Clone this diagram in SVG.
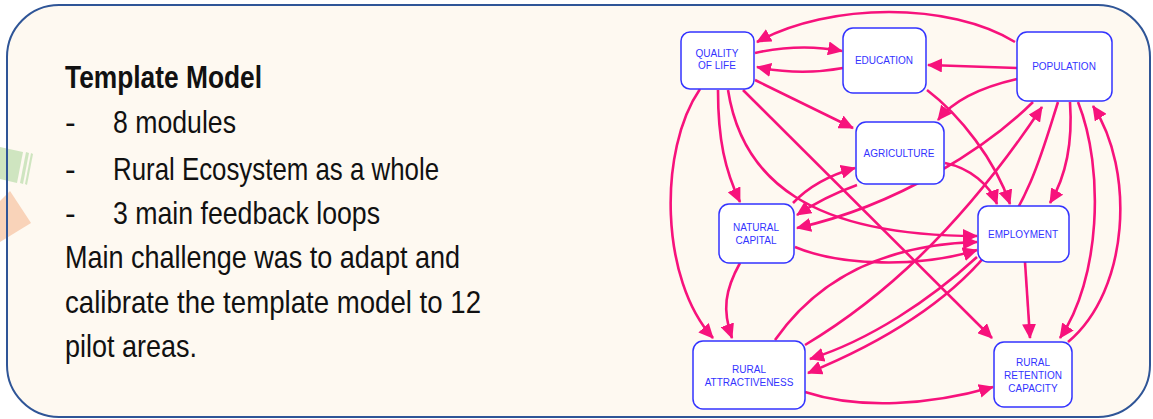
<svg xmlns="http://www.w3.org/2000/svg" width="1153" height="419" viewBox="0 0 1153 419">
<defs>
<style>
.txt{font-family:"Liberation Sans",Arial,sans-serif;fill:#111111}
.node rect{fill:#ffffff;stroke:#3333ff;stroke-width:1.5}
.node text{font-family:"Liberation Sans",Arial,sans-serif;font-size:10px;fill:#3333ff;text-anchor:middle}
.links path{fill:none;stroke:#f7127c;stroke-width:2.6;marker-end:url(#ah)}
</style>
<marker id="ah" markerUnits="userSpaceOnUse" markerWidth="16" markerHeight="14" refX="14" refY="7" orient="auto">
<path d="M0,0 L15,7 L0,14 z" fill="#f7127c"/>
</marker>
</defs>
<rect x="0" y="0" width="1153" height="419" fill="#ffffff"/>
<rect x="7" y="5" width="1143" height="412" rx="52" ry="52" fill="#fef9f1"/>
<g id="decor">
<polygon points="0,147 23,152 17,183 0,179" fill="#cfe5c0"/>
<polygon points="26,152 29,153 23,184 20,183" fill="#cfe5c0"/>
<polygon points="31,153 33,154 27,185 25,184" fill="#cfe5c0"/>
<polygon points="0,201 10,191 31,223 0,242" fill="#f9d3b9"/>
</g>
<rect x="7" y="5" width="1143" height="412" rx="52" ry="52" fill="none" stroke="#2f5597" stroke-width="2"/>
<g id="text-block" class="txt">
<text x="65" y="88" font-size="32" font-weight="bold" textLength="197" lengthAdjust="spacingAndGlyphs">Template Model</text>
<text x="65" y="133" font-size="32">-</text>
<text x="113" y="133" font-size="32" textLength="123" lengthAdjust="spacingAndGlyphs">8 modules</text>
<text x="65" y="180" font-size="32">-</text>
<text x="113" y="180" font-size="32" textLength="326" lengthAdjust="spacingAndGlyphs">Rural Ecosystem as a whole</text>
<text x="65" y="224" font-size="32">-</text>
<text x="113" y="224" font-size="32" textLength="267" lengthAdjust="spacingAndGlyphs">3 main feedback loops</text>
<text x="65" y="268" font-size="32" textLength="395" lengthAdjust="spacingAndGlyphs">Main challenge was to adapt and</text>
<text x="65" y="313" font-size="32" textLength="416" lengthAdjust="spacingAndGlyphs">calibrate the template model to 12</text>
<text x="65" y="357" font-size="32" textLength="132" lengthAdjust="spacingAndGlyphs">pilot areas.</text>
</g>
<g id="connectors" class="links">
<path d="M1015,42 C950,2 830,2 757,42"/>
<path d="M755,53 Q800,43 842,51"/>
<path d="M843,68 Q800,76 757,67"/>
<path d="M1017,68 L928,65"/>
<path d="M755,80 L853,128"/>
<path d="M1017,79 Q960,92 938,120"/>
<path d="M927,90 C960,115 995,160 1010,204"/>
<path d="M945,163 C970,168 990,185 997,204"/>
<path d="M1070,102 C1073,145 1065,178 1050,203"/>
<path d="M1033,102 C990,145 900,205 797,228"/>
<path d="M857,185 C835,193 815,203 797,215"/>
<path d="M793,203 C810,185 830,175 855,168"/>
<path d="M700,89 C658,150 660,280 713,338"/>
<path d="M718,90 C718,140 725,170 740,202"/>
<path d="M728,90 C742,180 810,236 977,236"/>
<path d="M743,90 L992,338"/>
<path d="M795,247 C840,266 920,268 977,250"/>
<path d="M740,263 C725,290 722,310 732,338"/>
<path d="M775,340 C810,290 870,245 977,242"/>
<path d="M805,345 C880,300 960,230 1042,107"/>
<path d="M1058,102 C1030,190 1010,290 808,373"/>
<path d="M977,257 C930,300 870,340 810,359"/>
<path d="M805,392 C860,410 930,405 993,387"/>
<path d="M1025,262 L1030,338"/>
<path d="M1078,102 C1105,170 1100,280 1060,338"/>
<path d="M1068,342 C1130,290 1135,170 1093,106"/>
</g>
<g id="node-quality" class="node">
<rect x="681" y="32" width="73" height="57" rx="9"/>
<text x="717" y="57">QUALITY</text>
<text x="717" y="69">OF LIFE</text>
</g>
<g id="node-education" class="node">
<rect x="843" y="28" width="83" height="65" rx="10"/>
<text x="884" y="64">EDUCATION</text>
</g>
<g id="node-population" class="node">
<rect x="1017" y="32" width="95" height="69" rx="10"/>
<text x="1064" y="70">POPULATION</text>
</g>
<g id="node-agriculture" class="node">
<rect x="856" y="122" width="88" height="62" rx="10"/>
<text x="899" y="157">AGRICULTURE</text>
</g>
<g id="node-natural" class="node">
<rect x="719" y="204" width="75" height="59" rx="10"/>
<text x="756" y="231">NATURAL</text>
<text x="756" y="244">CAPITAL</text>
</g>
<g id="node-employment" class="node">
<rect x="978" y="206" width="91" height="56" rx="10"/>
<text x="1023" y="238">EMPLOYMENT</text>
</g>
<g id="node-attractiveness" class="node">
<rect x="693" y="341" width="112" height="68" rx="10"/>
<text x="749" y="373">RURAL</text>
<text x="749" y="386">ATTRACTIVENESS</text>
</g>
<g id="node-retention" class="node">
<rect x="994" y="342" width="78" height="65" rx="10"/>
<text x="1033" y="366">RURAL</text>
<text x="1033" y="379">RETENTION</text>
<text x="1033" y="392">CAPACITY</text>
</g>
</svg>
